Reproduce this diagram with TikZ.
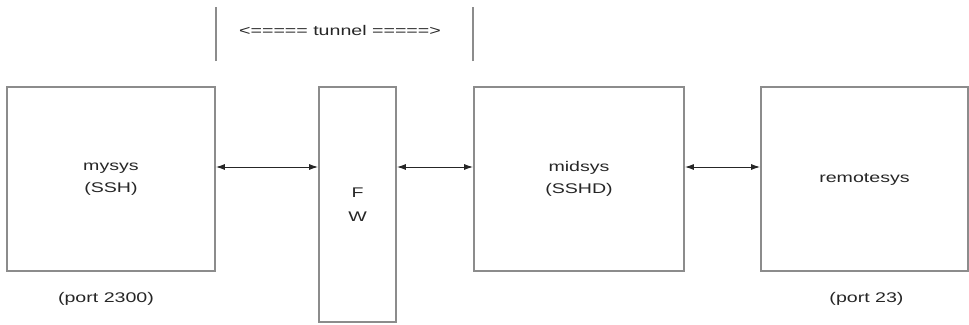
\documentclass[tikz,border=0pt]{standalone}
\usepackage{fontspec}
\setmainfont{Liberation Sans}
\usetikzlibrary{arrows.meta, positioning}
\newcommand{\wide}[1]{\scalebox{1.4}[1]{#1}}

\begin{document}
\begin{tikzpicture}[x=1pt, y=-1pt, >={Latex[length=9pt, width=6pt]},
  sys/.style={draw=black!45, line width=1.8pt, inner sep=0pt, align=center,
    font=\fontsize{14}{22}\selectfont, text=black!85},
  lbl/.style={inner sep=0pt, font=\fontsize{14}{22}\selectfont, text=black!85},
  link/.style={<->, line width=1pt, draw=black!85},
  wall/.style={line width=1.6pt, draw=black!45}]
  \useasboundingbox (0,0) rectangle (969,324);

  \node[sys, minimum width=208pt, minimum height=184pt] (mysys) at (111,179) {\wide{mysys}\\\wide{(SSH)}};
  \node[sys, minimum width=77pt, minimum height=235pt] (fw) at (357.5,204.5) {\wide{F}\\[2pt]\wide{W}};
  \node[sys, minimum width=210pt, minimum height=184pt] (midsys) at (579,179) {\wide{midsys}\\\wide{(SSHD)}};
  \node[sys, minimum width=207pt, minimum height=184pt] (remote) at (864.5,179) {\wide{remotesys}};

  % links at one height
  \coordinate (l1) at ([yshift=12pt]mysys.east);
  \coordinate (l2) at ([yshift=12pt]midsys.west);
  \coordinate (l3) at ([yshift=12pt]midsys.east);
  \draw[link] (l1) -- (l1 -| fw.west);
  \draw[link] (l2 -| fw.east) -- (l2);
  \draw[link] (l3) -- (l3 -| remote.west);

  % tunnel marks
  \draw[wall] ([yshift=25pt]mysys.north east) -- ++(0,-54);
  \draw[wall] ([yshift=25pt]midsys.north west) -- ++(0,-54);
  \node[lbl] (tunnel) at (340,30) {\wide{<===== tunnel =====>}};

  \node[lbl, below=20pt of mysys, xshift=-5pt] (port1) {\wide{(port 2300)}};
  \node[lbl, below=20pt of remote, xshift=2pt] (port2) {\wide{(port 23)}};
\end{tikzpicture}
\end{document}
